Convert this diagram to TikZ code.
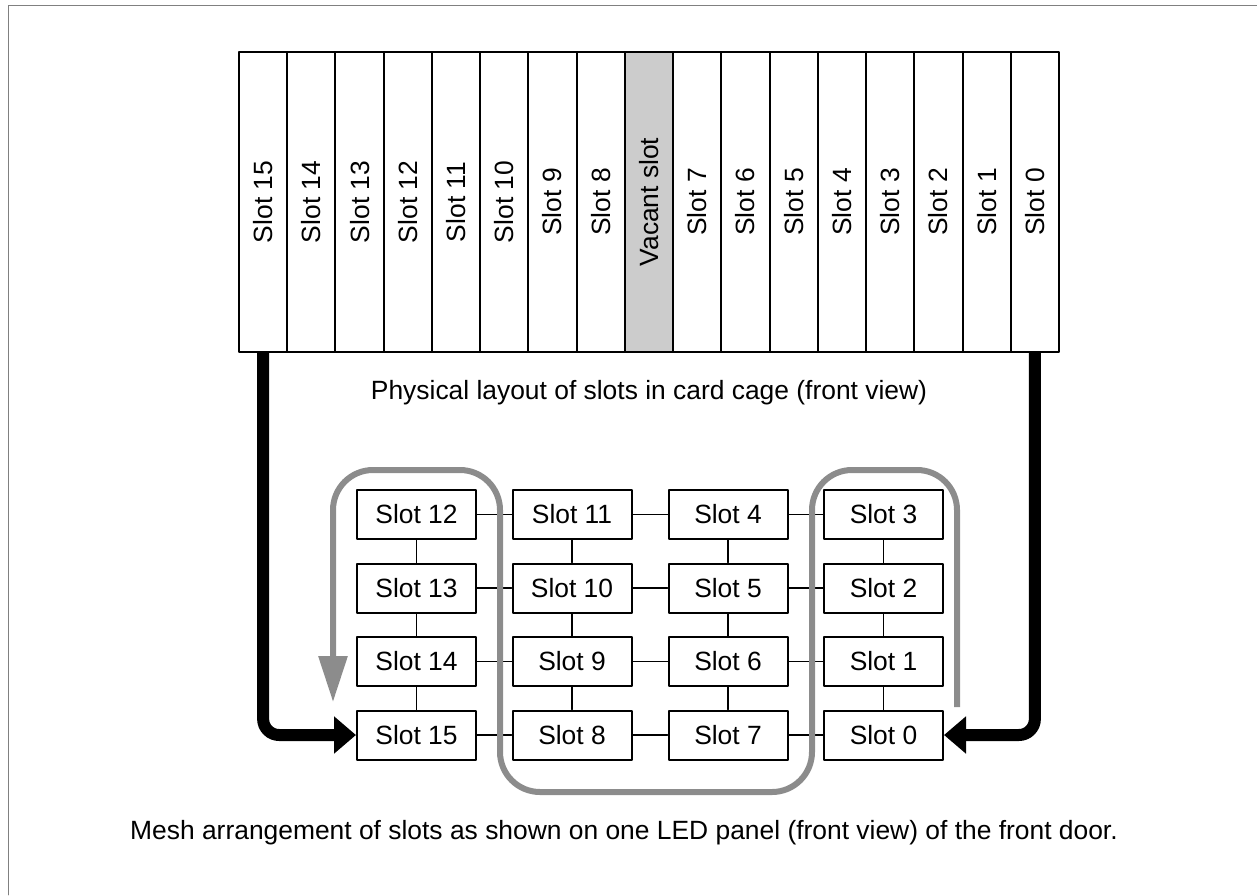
\documentclass[tikz,border=0pt]{standalone}
\usepackage{fontspec}
\setmainfont{Liberation Sans}
\usetikzlibrary{arrows.meta}
\tikzset{
  every picture/.style={line join=round, line cap=round, >=Stealth},
  card/.style={draw, line width=1pt, minimum width=24.1pt, minimum height=150pt, inner sep=0pt},
  mbox/.style={draw, line width=1pt, minimum width=59.5pt, minimum height=24.5pt, inner sep=0pt, font=\fontsize{13.2}{15}\selectfont},
  link/.style={line width=0.6pt},
  bigarrow/.style={line width=6pt, line cap=butt, rounded corners=8pt, -{Triangle[length=11pt,width=18pt]}},
  route/.style={line width=3pt, draw=black!45, line cap=butt, rounded corners=20pt, -{Triangle[length=23pt,width=14pt,fill=black!45]}},
  caption/.style={font=\fontsize{13.2}{15}\selectfont},
}
\definecolor{vacant}{gray}{0.8}

\begin{document}
\begin{tikzpicture}[x=0.5pt,y=-0.5pt]
\useasboundingbox (0,0) rectangle (1257,895);
\draw[black!50, line width=0.4pt] (1257,5) -- (8,5) -- (8,895);
% card cage, left to right
\foreach \k/\s in {0/15,1/14,2/13,3/12,4/11,5/10,6/9,7/8,9/7,10/6,11/5,12/4,13/3,14/2,15/1,16/0}
  \node[card] (c\s) at ({239+48.235*(\k+0.5)},202) {\rotatebox{90}{\fontsize{13.2}{15}\selectfont Slot \s}};
\node[card, fill=vacant] (cv) at ({239+48.235*8.5},202) {\rotatebox{90}{\fontsize{13.2}{15}\selectfont Vacant slot}};
\node[caption] (cap1) at (649,393) {Physical layout of slots in card cage (front view)};
% LED panel mesh
\foreach \a/\b/\c/\d [count=\r] in {12/11/4/3,13/10/5/2,14/9/6/1,15/8/7/0}{
  \node[mbox] (m\a) at (416.5,441+73.5*\r) {Slot \a};
  \node[mbox] (m\b) at (572,441+73.5*\r) {Slot \b};
  \node[mbox] (m\c) at (728,441+73.5*\r) {Slot \c};
  \node[mbox] (m\d) at (883.5,441+73.5*\r) {Slot \d};
  \draw[link] (m\a) -- (m\b) (m\b) -- (m\c) (m\c) -- (m\d);
}
\foreach \u/\v in {12/13,13/14,14/15,11/10,10/9,9/8,4/5,5/6,6/7,3/2,2/1,1/0}
  \draw[link] (m\u) -- (m\v);
\draw[route] (957,707) -- (957,470) -- (812,470) -- (812,792) -- (500,792) -- (500,470) -- (333,470) -- (333,702);
\draw[bigarrow] (c15.south) |- (m15.west);
\draw[bigarrow] (c0.south) |- (m0.east);
\node[caption] (cap2) at (624,833) {Mesh arrangement of slots as shown on one LED panel (front view) of the front door.};
\end{tikzpicture}
\end{document}
